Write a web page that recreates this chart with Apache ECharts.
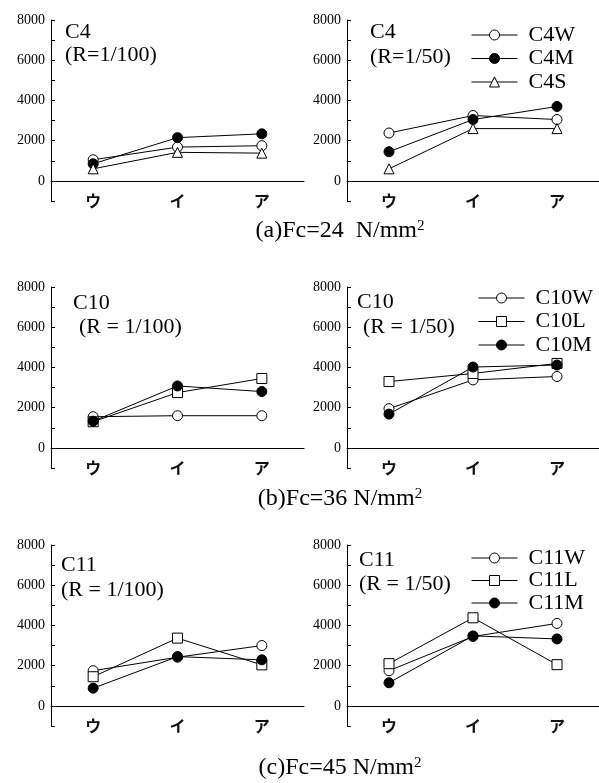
<!DOCTYPE html>
<html lang="ja">
<head>
  <meta charset="UTF-8" />
  <title>C4 / C10 / C11</title>
  <script src="https://cdn.jsdelivr.net/npm/echarts@6/dist/echarts.min.js"></script>
  <style>
    body { margin: 0; background: #fff; }
    #main { width: 599px; height: 783px; }
  </style>
</head>
<body>
  <div id="main"></div>
  <script>
    const categories = ['ウ', 'イ', 'ア'];

    // (a) Fc=24
    const c4W_100 = [1050, 1680, 1750];
    const c4M_100 = [850, 2150, 2340];
    const c4S_100 = [600, 1420, 1380];
    const c4W_50 = [2380, 3250, 3050];
    const c4M_50 = [1450, 3050, 3700];
    const c4S_50 = [600, 2600, 2600];

    // (b) Fc=36
    const c10W_100 = [1550, 1600, 1600];
    const c10L_100 = [1300, 2750, 3450];
    const c10M_100 = [1330, 3080, 2800];
    const c10W_50 = [1950, 3380, 3550];
    const c10L_50 = [3300, 3700, 4200];
    const c10M_50 = [1680, 4020, 4120];

    // (c) Fc=45
    const c11W_100 = [1750, 2420, 3000];
    const c11L_100 = [1450, 3370, 2040];
    const c11M_100 = [880, 2450, 2290];
    const c11W_50 = [1750, 3450, 4100];
    const c11L_50 = [2100, 4380, 2050];
    const c11M_50 = [1150, 3480, 3330];

    const yMin = -1000;
    const yMax = 8000;
    const yStep = 1000;
    const yLabelStep = 2000;

    const serif = 'Liberation Serif';
    const jp = 'Noto Sans CJK JP';

    const markers = {
      W: { symbol: 'circle', fill: '#fff' },
      M: { symbol: 'circle', fill: '#000' },
      S: { symbol: 'triangle', fill: '#fff' },
      L: { symbol: 'rect', fill: '#fff' }
    };

    const panels = [
      [['C4W', c4W_100, 'W'], ['C4M', c4M_100, 'M'], ['C4S', c4S_100, 'S']],
      [['C4W', c4W_50, 'W'], ['C4M', c4M_50, 'M'], ['C4S', c4S_50, 'S']],
      [['C10W', c10W_100, 'W'], ['C10L', c10L_100, 'L'], ['C10M', c10M_100, 'M']],
      [['C10W', c10W_50, 'W'], ['C10L', c10L_50, 'L'], ['C10M', c10M_50, 'M']],
      [['C11W', c11W_100, 'W'], ['C11L', c11L_100, 'L'], ['C11M', c11M_100, 'M']],
      [['C11W', c11W_50, 'W'], ['C11L', c11L_50, 'L'], ['C11M', c11M_50, 'M']]
    ];

    const boxes = [
      { left: 51, top: 20, width: 253 }, { left: 347, top: 20, width: 252 },
      { left: 51, top: 287, width: 253 }, { left: 347, top: 287, width: 252 },
      { left: 51, top: 545, width: 253 }, { left: 347, top: 545, width: 252 }
    ];

    const grid = boxes.map(b => ({ left: b.left, top: b.top, width: b.width, height: 181 }));

    // labels sit just at the bottom end of the y axis, the line itself runs along y = 0
    const xAxis = boxes.map((b, i) => ({
      type: 'category',
      gridIndex: i,
      data: categories,
      boundaryGap: true,
      axisLine: { onZero: true, lineStyle: { color: '#000', width: 1 } },
      axisTick: { show: false },
      axisLabel: { margin: -8, fontSize: 16, fontWeight: 'bold', fontFamily: jp, color: '#111' }
    }));

    const yAxis = boxes.map((b, i) => ({
      type: 'value',
      gridIndex: i,
      min: yMin,
      max: yMax,
      interval: yStep,
      splitLine: { show: false },
      axisLine: { show: true, lineStyle: { color: '#000', width: 1 } },
      axisTick: { show: true, inside: true, length: 4, lineStyle: { color: '#000' } },
      axisLabel: {
        margin: 6,
        fontSize: 14,
        fontFamily: serif,
        color: '#000',
        formatter: v => (v >= 0 && v % yLabelStep === 0 ? String(v) : '')
      }
    }));

    const series = [];
    panels.forEach((lines, i) => {
      lines.forEach(([name, data, kind]) => {
        series.push({
          name: name,
          type: 'line',
          xAxisIndex: i,
          yAxisIndex: i,
          data: data,
          symbol: markers[kind].symbol,
          symbolSize: 10,
          animation: false,
          lineStyle: { color: '#000', width: 1 },
          itemStyle: { color: markers[kind].fill, borderColor: '#000', borderWidth: 1 }
        });
      });
    });

    const legendBase = {
      orient: 'vertical',
      selectedMode: false,
      padding: 0,
      itemWidth: 46,
      itemHeight: 12.5,
      itemGap: 1.5,
      lineStyle: { width: 1 },
      itemStyle: { borderWidth: 1 },
      textStyle: { fontFamily: serif, fontSize: 22, color: '#000', padding: [0, 0, 0, 6] }
    };
    const legend = [
      Object.assign({}, legendBase, { left: 471, top: 24, data: ['C4W', 'C4M', 'C4S'] }),
      Object.assign({}, legendBase, { left: 478, top: 287, data: ['C10W', 'C10L', 'C10M'] }),
      Object.assign({}, legendBase, { left: 471, top: 547, itemGap: 0.5, data: ['C11W', 'C11L', 'C11M'] })
    ];

    const label = (text, x, y) => ({
      type: 'text', x: x, y: y,
      style: { text: text, fontFamily: serif, fontSize: 22, fill: '#000', align: 'left', verticalAlign: 'middle' }
    });
    const caption = (text, y) => ({
      type: 'text', x: 340, y: y,
      style: {
        text: text, fontFamily: serif, fontSize: 24, fill: '#000', align: 'center', verticalAlign: 'middle',
        rich: { sup: { fontFamily: serif, fontSize: 15, verticalAlign: 'top', fill: '#000' } }
      }
    });

    const graphic = [
      label('C4', 65, 32), label('(R=1/100)', 65, 55),
      label('C4', 370, 32), label('(R=1/50)', 370, 57),
      label('C10', 73, 303), label('(R = 1/100)', 79, 327),
      label('C10', 357, 302), label('(R = 1/50)', 363, 327),
      label('C11', 61, 565), label('(R = 1/100)', 61, 590),
      label('C11', 359, 560), label('(R = 1/50)', 359, 584),
      caption('(a)Fc=24  N/mm{sup|2}', 231),
      caption('(b)Fc=36 N/mm{sup|2}', 499),
      caption('(c)Fc=45 N/mm{sup|2}', 768)
    ];

    const chart = echarts.init(document.getElementById('main'));
    chart.setOption({
      backgroundColor: '#fff',
      animation: false,
      grid: grid,
      xAxis: xAxis,
      yAxis: yAxis,
      legend: legend,
      series: series,
      graphic: graphic
    });
  </script>
</body>
</html>
